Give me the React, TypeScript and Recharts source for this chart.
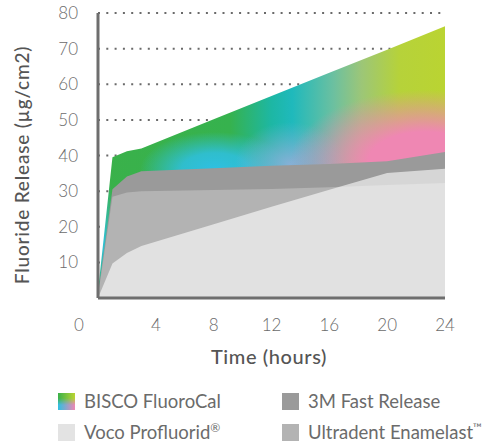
import React from "react";
import {
  AreaChart,
  Area,
  XAxis,
  YAxis,
  CartesianGrid,
} from "recharts";

// hours since application
const hours = [0, 1, 2, 3, 8, 12, 16, 20, 24];

// cumulative fluoride release, µg/cm2
const biscoFluoroCal = [2, 39.5, 41.2, 42, 50.2, 56.7, 63.2, 69.7, 76.3];
const fastRelease3M = [1, 30.5, 34.1, 35.6, 36.4, 37.1, 37.6, 38.4, 41];
const ultradentEnamelast = [0.5, 28.4, 29.6, 30, 30.3, 30.6, 31.1, 31.7, 32.3];
const vocoProfluorid = [0, 9.7, 12.6, 14.6, 20.7, 25.6, 30.4, 35.1, 36.3];

const xTicks = [0, 4, 8, 12, 16, 20, 24];
const yTicks = [10, 20, 30, 40, 50, 60, 70, 80];

const chartData = hours.map((h, i) => ({
  hour: h,
  bisco: biscoFluoroCal[i],
  fast: fastRelease3M[i],
  enamelast: ultradentEnamelast[i],
  voco: vocoProfluorid[i],
}));

const FONT = "Lato, 'Noto Sans', sans-serif";
const TEXT = "#6b6b6b";
const AXIS = "#6e6e6e";

const XTick = (props: any) => {
  const { x, y, payload } = props;
  // the zero label sits left of the axis line in the original
  const tx = payload.value === 0 ? x - 19 : x;
  return (
    <text
      x={tx}
      y={y + 26}
      textAnchor="middle"
      dominantBaseline="central"
      fill={TEXT}
      fontSize={17}
      fontWeight={300}
      fontFamily={FONT}
    >
      {payload.value}
    </text>
  );
};

const Swatch = ({ color }: { color: string }) => (
  <div style={{ width: 17, height: 17, background: color }} />
);

const BiscoSwatch = () => (
  <div style={{ position: "relative", width: 17, height: 17 }}>
    <div
      style={{
        position: "absolute",
        inset: 0,
        background: "linear-gradient(to right, #2ec0e3, #ef87b3)",
      }}
    />
    <div
      style={{
        position: "absolute",
        inset: 0,
        background: "linear-gradient(to right, #3ab14a, #bad432)",
        WebkitMaskImage: "linear-gradient(to bottom, #000 30%, transparent 70%)",
        maskImage: "linear-gradient(to bottom, #000 30%, transparent 70%)",
      }}
    />
  </div>
);

const legendItems = [
  { name: "BISCO FluoroCal", swatch: <BiscoSwatch />, left: 58, top: 393 },
  { name: "3M Fast Release", swatch: <Swatch color="#9a9a9a" />, left: 282, top: 393 },
  { name: "Voco Profluorid", sup: "®", swatch: <Swatch color="#e3e3e3" />, left: 58, top: 424 },
  { name: "Ultradent Enamelast", sup: "™", swatch: <Swatch color="#b3b3b3" />, left: 282, top: 424 },
];

export default function App() {
  return (
    <div
      style={{
        position: "absolute",
        left: 0,
        top: 0,
        width: 484,
        height: 443,
        background: "#fff",
        fontFamily: FONT,
        overflow: "hidden",
      }}
    >
      <AreaChart
        width={484}
        height={443}
        data={chartData}
        margin={{ top: 13, right: 39, bottom: 115, left: 0 }}
      >
        <defs>
          <linearGradient id="biscoTop" gradientUnits="userSpaceOnUse" x1="99" y1="0" x2="444" y2="0">
            <stop offset="0" stopColor="#3ab14a" />
            <stop offset="0.38" stopColor="#36b24e" />
            <stop offset="0.5" stopColor="#1db7a4" />
            <stop offset="0.56" stopColor="#1fb9bc" />
            <stop offset="0.68" stopColor="#6cc0a0" />
            <stop offset="0.76" stopColor="#9cc678" />
            <stop offset="0.87" stopColor="#b6d23a" />
            <stop offset="1" stopColor="#bad432" />
          </linearGradient>
          <radialGradient id="biscoCyan" gradientUnits="userSpaceOnUse" cx="0" cy="0" r="1"
            gradientTransform="translate(215 170) scale(75 38)">
            <stop offset="0" stopColor="#2ec0e3" stopOpacity="1" />
            <stop offset="0.45" stopColor="#2ec0e3" stopOpacity="0.85" />
            <stop offset="1" stopColor="#2ec0e3" stopOpacity="0" />
          </radialGradient>
          <radialGradient id="biscoEdge" gradientUnits="userSpaceOnUse" cx="0" cy="0" r="1"
            gradientTransform="translate(102 240) scale(14 70)">
            <stop offset="0" stopColor="#2ec0e3" stopOpacity="1" />
            <stop offset="1" stopColor="#2ec0e3" stopOpacity="0" />
          </radialGradient>
          <radialGradient id="biscoBlue" gradientUnits="userSpaceOnUse" cx="0" cy="0" r="1"
            gradientTransform="translate(290 164) scale(55 42)">
            <stop offset="0" stopColor="#8cb0d8" stopOpacity="0.95" />
            <stop offset="1" stopColor="#8cb0d8" stopOpacity="0" />
          </radialGradient>
          <radialGradient id="biscoPink" gradientUnits="userSpaceOnUse" cx="0" cy="0" r="1"
            gradientTransform="translate(425 162) scale(135 72)">
            <stop offset="0" stopColor="#ef87b3" stopOpacity="1" />
            <stop offset="0.42" stopColor="#ef87b3" stopOpacity="1" />
            <stop offset="1" stopColor="#ef87b3" stopOpacity="0" />
          </radialGradient>
          <pattern id="biscoFill" patternUnits="userSpaceOnUse" x="0" y="0" width="484" height="443">
            <rect x="0" y="0" width="484" height="443" fill="url(#biscoTop)" />
            <rect x="0" y="0" width="484" height="443" fill="url(#biscoEdge)" />
            <rect x="0" y="0" width="484" height="443" fill="url(#biscoCyan)" />
            <rect x="0" y="0" width="484" height="443" fill="url(#biscoBlue)" />
            <rect x="0" y="0" width="484" height="443" fill="url(#biscoPink)" />
          </pattern>
        </defs>
        <CartesianGrid
          vertical={false}
          stroke="#6a6a6a"
          strokeWidth={2}
          strokeDasharray="2 6.3"
        />
        <XAxis
          dataKey="hour"
          type="number"
          domain={[0, 24]}
          ticks={xTicks}
          height={30}
          tickLine={false}
          tickSize={0}
          tickMargin={0}
          axisLine={{ stroke: AXIS, strokeWidth: 3 }}
          tick={<XTick />}
        />
        <YAxis
          type="number"
          domain={[0, 80]}
          ticks={yTicks}
          width={98}
          tickLine={false}
          tickSize={0}
          tickMargin={20}
          axisLine={{ stroke: AXIS, strokeWidth: 3 }}
          tick={{ fill: TEXT, fontSize: 17, fontWeight: 300, fontFamily: FONT }}
        />
        <Area
          type="linear"
          dataKey="bisco"
          name="BISCO FluoroCal"
          stroke="none"
          fill="url(#biscoFill)"
          fillOpacity={1}
          isAnimationActive={false}
          activeDot={false}
        />
        <Area
          type="linear"
          dataKey="fast"
          name="3M Fast Release"
          stroke="none"
          fill="#9a9a9a"
          fillOpacity={1}
          isAnimationActive={false}
          activeDot={false}
        />
        <Area
          type="linear"
          dataKey="enamelast"
          name="Ultradent Enamelast™"
          stroke="none"
          fill="#b3b3b3"
          fillOpacity={1}
          isAnimationActive={false}
          activeDot={false}
        />
        <Area
          type="linear"
          dataKey="voco"
          name="Voco Profluorid®"
          stroke="none"
          fill="#ffffff"
          fillOpacity={0.6}
          isAnimationActive={false}
          activeDot={false}
        />
      </AreaChart>

      <div
        style={{
          position: "absolute",
          left: 21,
          top: 165,
          transform: "translate(-50%, -50%) rotate(-90deg)",
          whiteSpace: "nowrap",
          fontSize: 19,
          fontWeight: 500,
          color: "#555",
          letterSpacing: 0.8,
        }}
      >
        Fluoride Release (µg/cm2)
      </div>
      <div
        style={{
          position: "absolute",
          left: 269,
          top: 356,
          transform: "translate(-50%, -50%)",
          whiteSpace: "nowrap",
          fontSize: 20,
          fontWeight: 500,
          color: "#555",
          letterSpacing: 0.6,
        }}
      >
        Time (hours)
      </div>

      {legendItems.map((item) => (
        <div
          key={item.name}
          style={{
            position: "absolute",
            left: item.left,
            top: item.top,
            display: "flex",
            alignItems: "center",
            whiteSpace: "nowrap",
          }}
        >
          {item.swatch}
          <span
            style={{
              marginLeft: 9,
              fontSize: 18.5,
              color: TEXT,
              lineHeight: "17px",
            }}
          >
            {item.name}
            {item.sup && <sup style={{ fontSize: 12, lineHeight: 0 }}>{item.sup}</sup>}
          </span>
        </div>
      ))}
    </div>
  );
}
